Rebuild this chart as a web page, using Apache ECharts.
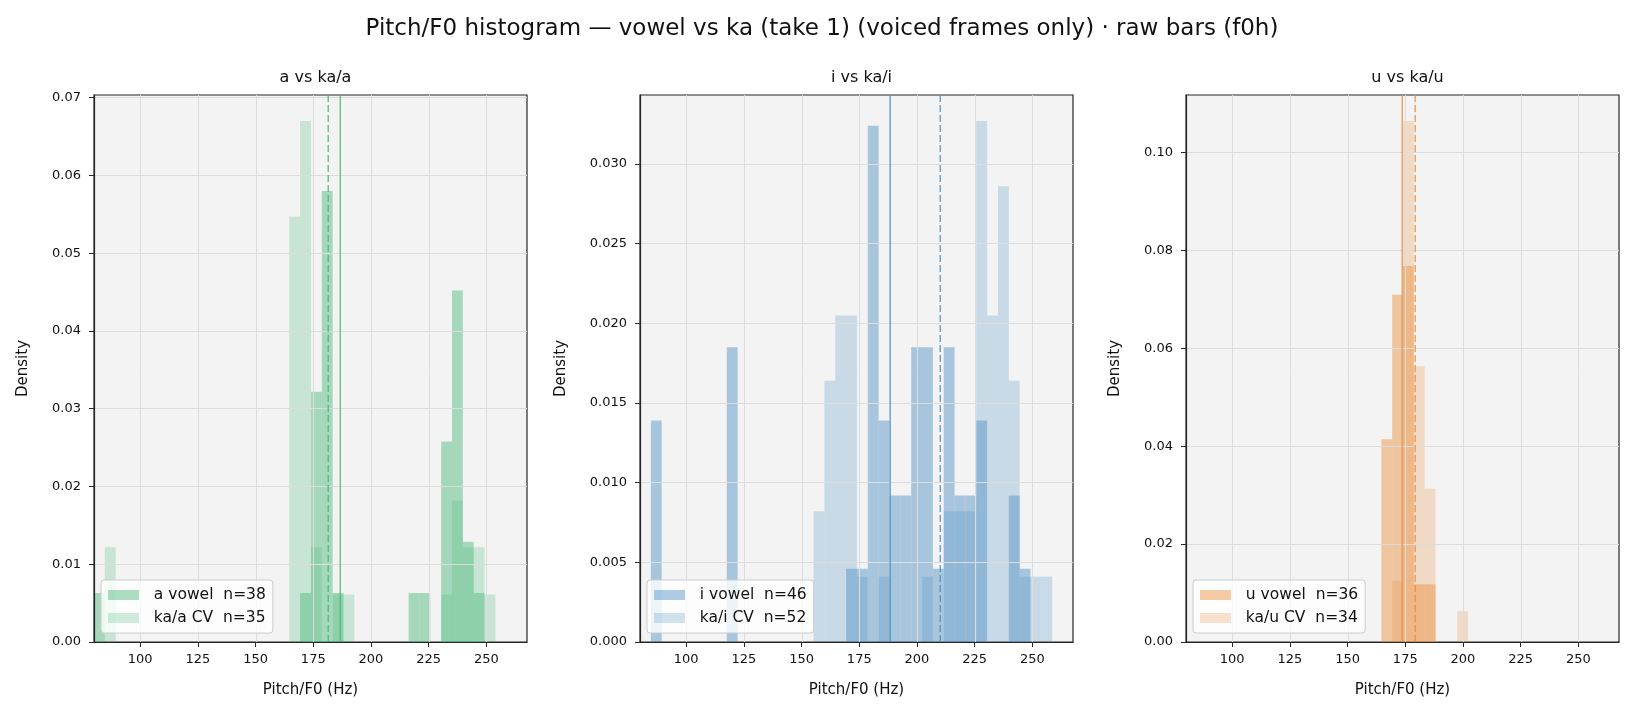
<!DOCTYPE html>
<html>
<head>
<meta charset="utf-8">
<title>Pitch/F0 histogram</title>
<script src="https://cdn.jsdelivr.net/npm/echarts@6/dist/echarts.min.js"></script>
<style>
  html, body { margin: 0; padding: 0; background: #fff; }
  #chart { width: 1634px; height: 715px; }
</style>
</head>
<body>
<div id="chart"></div>
<script>
// shared histogram bins (Hz): 38 bins starting at 80
var binStart = 80;
var binWidth = 4.7;
var xTicks = [100, 125, 150, 175, 200, 225, 250];

// density per bin
var aVowel = [
  0.0063, 0, 0, 0, 0, 0, 0, 0, 0, 0,
  0, 0, 0, 0, 0, 0, 0, 0, 0, 0.0063,
  0.0322, 0.0580, 0.0063, 0, 0, 0, 0, 0, 0, 0.0063,
  0.0063, 0, 0.0258, 0.0452, 0.0129, 0.0063, 0, 0
];
var aKa = [
  0, 0.0122, 0, 0, 0, 0, 0, 0, 0, 0,
  0, 0, 0, 0, 0, 0, 0, 0, 0.0547, 0.0670,
  0.0122, 0, 0.0061, 0.0061, 0, 0, 0, 0, 0, 0,
  0, 0, 0.0061, 0.0182, 0.0122, 0.0122, 0.0061, 0
];
var iVowel = [
  0, 0.0139, 0, 0, 0, 0, 0, 0, 0.0185, 0,
  0, 0, 0, 0, 0, 0, 0, 0, 0, 0.0046,
  0.0046, 0.0324, 0.0139, 0.0092, 0.0092, 0.0185, 0.0185, 0.0046, 0.0185, 0.0092,
  0.0092, 0.0139, 0, 0, 0.0092, 0.0046, 0, 0
];
var iKa = [
  0, 0, 0, 0, 0, 0, 0, 0, 0, 0,
  0, 0, 0, 0, 0, 0, 0.0082, 0.0164, 0.0205, 0.0205,
  0.0041, 0, 0.0041, 0, 0, 0, 0.0041, 0, 0.0082, 0.0082,
  0.0082, 0.0327, 0.0205, 0.0286, 0.0164, 0.0041, 0.0041, 0.0041
];
var uVowel = [
  0, 0, 0, 0, 0, 0, 0, 0, 0, 0,
  0, 0, 0, 0, 0, 0, 0, 0, 0.0414, 0.0709,
  0.0768, 0.0118, 0.0118, 0, 0, 0, 0, 0, 0, 0,
  0, 0, 0, 0, 0, 0, 0, 0
];
var uKa = [
  0, 0, 0, 0, 0, 0, 0, 0, 0, 0,
  0, 0, 0, 0, 0, 0, 0, 0, 0, 0.0125,
  0.1064, 0.0563, 0.0313, 0, 0, 0.0063, 0, 0, 0, 0,
  0, 0, 0, 0, 0, 0, 0, 0
];

// mean lines (Hz)
var vowelMeans = [186.7, 188.4, 173.7];
var kaMeans = [181.5, 210.1, 179.3];

var titles = ["a vs ka/a", "i vs ka/i", "u vs ka/u"];
var vowelNames = ["a vowel  n=38", "i vowel  n=46", "u vowel  n=36"];
var kaNames = ["ka/a CV  n=35", "ka/i CV  n=52", "ka/u CV  n=34"];

var aTicks = [0, 0.01, 0.02, 0.03, 0.04, 0.05, 0.06, 0.07];
var iTicks = [0, 0.005, 0.010, 0.015, 0.020, 0.025, 0.030];
var uTicks = [0, 0.02, 0.04, 0.06, 0.08, 0.10];

var FONT = "DejaVu Sans";
var X_MIN = 80, X_MAX = 267.6;
var gridLeft = [94, 640, 1186];
var baseColors = ["72,184,120", "76,143,196", "234,143,59"];

var vowelData = [aVowel, iVowel, uVowel];
var kaData = [aKa, iKa, uKa];
var yTicks = [aTicks, iTicks, uTicks];
var yDigits = [2, 3, 2];

function toBars(arr) {
  var out = [];
  arr.forEach(function (d, k) {
    if (d > 0) out.push([binStart + k * binWidth, binStart + (k + 1) * binWidth, d]);
  });
  return out;
}

function renderBar(params, api) {
  var p0 = api.coord([api.value(0), api.value(2)]);
  var p1 = api.coord([api.value(1), 0]);
  return {
    type: "rect",
    shape: { x: p0[0], y: p0[1], width: p1[0] - p0[0], height: p1[1] - p0[1] },
    style: { fill: api.visual("color") }
  };
}

function renderGridLine(params, api) {
  var cs = params.coordSys;
  var x = Math.round(api.coord([api.value(0), 0])[0]) + 0.5;
  return {
    type: "line",
    shape: { x1: x, y1: cs.y, x2: x, y2: cs.y + cs.height },
    style: { stroke: "#dcdcdc", lineWidth: 1 }
  };
}

var grids = [], xAxes = [], yAxes = [], series = [], legends = [];
var titleList = [{
  text: "Pitch/F0 histogram \u2014 vowel vs ka (take 1) (voiced frames only) \u00b7 raw bars (f0h)",
  left: 817, top: 13, textAlign: "center",
  textStyle: { fontFamily: FONT, fontSize: 23, fontWeight: "normal", color: "#111" }
}];

for (var i = 0; i < 3; i++) {
  var yMax = Math.max(Math.max.apply(null, vowelData[i]), Math.max.apply(null, kaData[i])) * 1.05;
  var col = baseColors[i];
  var dig = yDigits[i];

  grids.push({
    left: gridLeft[i], top: 95, width: 433, height: 547,
    show: true, backgroundColor: "#f3f3f3", borderColor: "#262626", borderWidth: 1.2
  });
  titleList.push({
    text: titles[i], left: gridLeft[i] + 216.5, top: 65, textAlign: "center",
    textStyle: { fontFamily: FONT, fontSize: 16, fontWeight: "normal", color: "#111" }
  });
  xAxes.push({
    type: "value", gridIndex: i, min: X_MIN, max: X_MAX, z: 3,
    name: "Pitch/F0 (Hz)", nameLocation: "middle", nameGap: 41,
    nameTextStyle: { fontFamily: FONT, fontSize: 15, color: "#111" },
    axisLine: { show: true, onZero: false, lineStyle: { color: "#262626", width: 1.2 } },
    axisTick: { show: true, length: 5, customValues: xTicks, lineStyle: { color: "#262626" } },
    axisLabel: { customValues: xTicks, fontFamily: FONT, fontSize: 13, color: "#111", margin: 11 },
    splitLine: { show: false }
  });
  yAxes.push({
    type: "value", gridIndex: i, min: 0, max: yMax, interval: yTicks[i][1], z: 3,
    name: "Density", nameLocation: "middle", nameGap: i === 1 ? 71 : 63,
    nameTextStyle: { fontFamily: FONT, fontSize: 15, color: "#111" },
    axisLine: { show: true, lineStyle: { color: "#262626", width: 1.2 } },
    axisTick: { show: true, length: 5, customValues: yTicks[i], lineStyle: { color: "#262626" } },
    axisLabel: {
      customValues: yTicks[i], fontFamily: FONT, fontSize: 13, color: "#111", margin: 13,
      formatter: (function (d) { return function (v) { return v.toFixed(d); }; })(dig)
    },
    splitLine: { show: true, lineStyle: { color: "#dcdcdc", width: 1 } }
  });

  series.push({
    type: "custom", xAxisIndex: i, yAxisIndex: i, silent: true, z: 3,
    data: xTicks.map(function (v) { return [v]; }),
    encode: { x: 0 }, renderItem: renderGridLine
  });
  series.push({
    type: "custom", name: vowelNames[i], xAxisIndex: i, yAxisIndex: i, clip: true, z: 2,
    data: toBars(vowelData[i]), encode: { x: [0, 1], y: 2 },
    itemStyle: { color: "rgba(" + col + ",0.45)" }, renderItem: renderBar
  });
  series.push({
    type: "custom", name: kaNames[i], xAxisIndex: i, yAxisIndex: i, clip: true, z: 2,
    data: toBars(kaData[i]), encode: { x: [0, 1], y: 2 },
    itemStyle: { color: "rgba(" + col + ",0.25)" }, renderItem: renderBar
  });
  series.push({
    type: "line", xAxisIndex: i, yAxisIndex: i, silent: true, z: 4, symbol: "none",
    data: [[vowelMeans[i], 0], [vowelMeans[i], yMax]],
    lineStyle: { color: "rgba(" + col + ",0.8)", width: 1.5, type: "solid" }
  });
  series.push({
    type: "line", xAxisIndex: i, yAxisIndex: i, silent: true, z: 4, symbol: "none",
    data: [[kaMeans[i], 0], [kaMeans[i], yMax]],
    lineStyle: { color: "rgba(" + col + ",0.8)", width: 1.5, type: [7, 3] }
  });

  legends.push({
    data: [vowelNames[i], kaNames[i]], orient: "vertical",
    left: gridLeft[i] + 7, top: 580, icon: "rect",
    itemWidth: 31, itemHeight: 10, itemGap: 7, padding: [7, 7, 7, 7],
    backgroundColor: "rgba(255,255,255,0.8)", borderColor: "#cccccc", borderWidth: 1, borderRadius: 3,
    selectedMode: false,
    formatter: function (name) { return "  " + name; },
    textStyle: { fontFamily: FONT, fontSize: 15.5, color: "#111" }
  });
}

var chart = echarts.init(document.getElementById("chart"), null, { renderer: "canvas" });
chart.setOption({
  animation: false,
  backgroundColor: "#ffffff",
  title: titleList,
  grid: grids,
  xAxis: xAxes,
  yAxis: yAxes,
  legend: legends,
  series: series
});
</script>
</body>
</html>
